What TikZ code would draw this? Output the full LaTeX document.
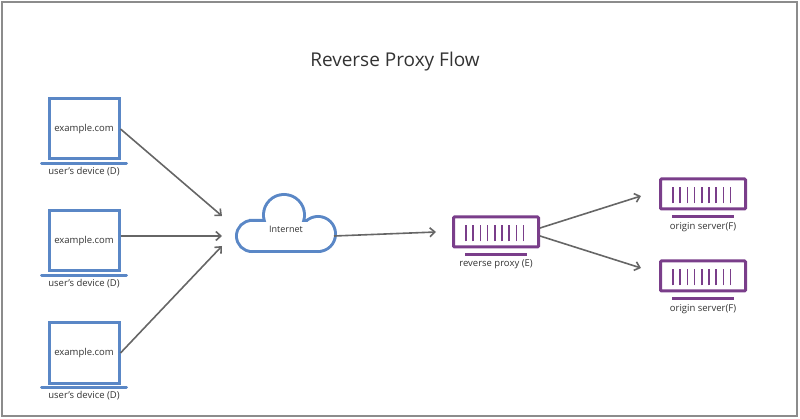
\documentclass[tikz,border=0pt]{standalone}
\usepackage{fontspec}
\setmainfont{Open Sans}
\usetikzlibrary{arrows.meta, positioning}
\definecolor{devblue}{HTML}{5A87C6}
\definecolor{srvpurple}{HTML}{7A3E8A}
\definecolor{flowgray}{HTML}{666666}
\definecolor{txtgray}{HTML}{333333}
\tikzset{
  laptop/.style={draw=devblue, line width=3pt, minimum width=70pt, minimum height=60pt, text=txtgray, font=\fontsize{9.5}{11}\selectfont},
  server/.style={draw=srvpurple, line width=3pt, minimum width=85pt, minimum height=30pt, rounded corners=1pt},
  caption/.style={text=txtgray, font=\fontsize{9.5}{11}\selectfont},
  flow/.style={draw=flowgray, line width=1.6pt, -{Straight Barb[length=5pt, width=9pt]}}
}
\begin{document}
\begin{tikzpicture}[x=1pt, y=-1pt]
\useasboundingbox (0,0) rectangle (800,419);
\draw[draw=gray!90, line width=2.5pt] (2,2) rectangle (797,416);
\node[text=txtgray, font=\fontsize{19}{22}\selectfont] (title) at (395,62) {Reverse Proxy Flow};

% user devices
\foreach \i/\y in {1/129, 2/241, 3/353} {
  \node[laptop] (d\i) at (84,\y) {example.com};
  \draw[devblue, line width=3pt, line cap=round] ([xshift=-6pt, yshift=-3pt]d\i.south west) -- ([xshift=6pt, yshift=-3pt]d\i.south east);
  \node[caption, below=3pt of d\i] (l\i) {user's device (D)};
}

% internet cloud
\begin{scope}[devblue, line width=6pt]
  \draw (252,236) circle (14) (284,215) circle (19) (318,234) circle (16) (252,222) rectangle (318,250);
  \fill[white] (252,236) circle (14);
  \fill[white] (284,215) circle (19);
  \fill[white] (318,234) circle (16);
  \fill[white] (252,222) rectangle (318,250);
\end{scope}
\node[caption, font=\fontsize{9}{11}\selectfont] (net) at (286,229) {Internet};
\coordinate (netin) at (222,236);
\coordinate (netout) at (334,236);

% reverse proxy
\node[server] (rp) at (496,232) {};
\node[caption, below=8pt of rp] (lrp) {reverse proxy (E)};
% origin servers
\node[server] (s1) at (703,194) {};
\node[caption, below=8pt of s1] (ls1) {origin server(F)};
\node[server] (s2) at (703,276) {};
\node[caption, below=8pt of s2] (ls2) {origin server(F)};
\foreach \n in {rp, s1, s2} {
  \foreach \k in {0,...,8}
    \draw[srvpurple, line width=1.6pt] ([xshift=14pt+\k*7.2pt, yshift=7pt]\n.south west) -- ++(0,-16);
  \draw[srvpurple, line width=2.5pt] ([xshift=13pt, yshift=-6pt]\n.south west) -- ([xshift=-13pt, yshift=-6pt]\n.south east);
}

% connectors
\draw[flow] (d1.east) -- ([yshift=20pt]netin);
\draw[flow] ([yshift=5pt]d2.east) -- (netin);
\draw[flow] (d3.east) -- ([yshift=-10pt]netin);
\draw[flow] (netout) -- ([xshift=-16pt]rp.west);
\draw[flow] ([yshift=4pt]rp.east) -- ([xshift=-18pt, yshift=-2pt]s1.west);
\draw[flow] ([yshift=-4pt]rp.east) -- ([xshift=-18pt, yshift=8pt]s2.west);
\end{tikzpicture}
\end{document}
